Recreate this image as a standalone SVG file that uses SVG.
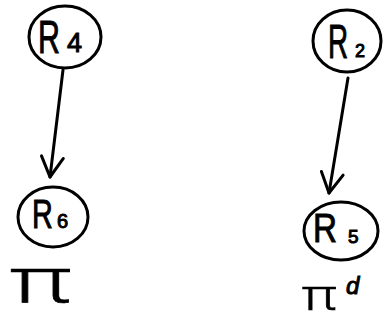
<svg xmlns="http://www.w3.org/2000/svg" width="384" height="322" viewBox="0 0 384 322">
  <style>
    .ring { fill: none; stroke: #000; stroke-width: 3; }
    .edge { fill: none; stroke: #000; stroke-width: 3; stroke-linecap: round; }
    .lbl { font-family: "Liberation Sans", "DejaVu Sans", sans-serif; fill: #000; stroke: #000; stroke-width: 1; }
    .pi { font-family: "Noto Sans", "DejaVu Sans", sans-serif; font-weight: 300; fill: #000; stroke: #000; stroke-width: 0.6; }
  </style>
  <defs>
    <marker id="arrow" markerUnits="userSpaceOnUse" markerWidth="30" markerHeight="30" viewBox="-24 -15 30 30" refX="0" refY="0" orient="auto">
      <path d="M -20 -11 L 0 0 L -20 11" fill="none" stroke="#000" stroke-width="3" stroke-linecap="round" stroke-linejoin="round"/>
    </marker>
  </defs>

  <rect width="384" height="322" fill="#fff"/>

  <!-- nodes: a narrow "R" (scaled across) plus its index -->
  <g id="R4">
    <ellipse class="ring" cx="65" cy="37" rx="36" ry="31"/>
    <text class="lbl" transform="translate(38 53) scale(0.66 1)" font-size="46">R</text>
    <text class="lbl" x="67" y="52" font-size="27">4</text>
  </g>
  <g id="R6">
    <ellipse class="ring" cx="53" cy="217" rx="35" ry="30"/>
    <text class="lbl" transform="translate(32 228) scale(0.72 1)" font-size="40">R</text>
    <text class="lbl" x="57" y="228" font-size="20">6</text>
  </g>
  <g id="R2">
    <ellipse class="ring" cx="347" cy="41" rx="34" ry="31"/>
    <text class="lbl" transform="translate(328 58) scale(0.58 1)" font-size="48">R</text>
    <text class="lbl" x="355" y="57" font-size="18">2</text>
  </g>
  <g id="R5">
    <ellipse class="ring" cx="341" cy="231" rx="37" ry="29"/>
    <text class="lbl" transform="translate(313 242) scale(0.83 1)" font-size="40">R</text>
    <text class="lbl" x="348" y="243" font-size="19">5</text>
  </g>

  <!-- connectors -->
  <g id="edges">
    <path class="edge" d="M 63 70 L 50 177" marker-end="url(#arrow)"/>
    <path class="edge" d="M 348 78 L 329 193" marker-end="url(#arrow)"/>
  </g>

  <!-- graph labels -->
  <g id="labels">
    <text class="pi" x="10" y="302" font-size="62" textLength="62" lengthAdjust="spacingAndGlyphs">π</text>
    <text class="pi" x="302" y="310" font-size="42" textLength="35" lengthAdjust="spacingAndGlyphs">π</text>
    <text class="lbl" x="346" y="294" font-size="24" font-style="italic">d</text>
  </g>
</svg>
